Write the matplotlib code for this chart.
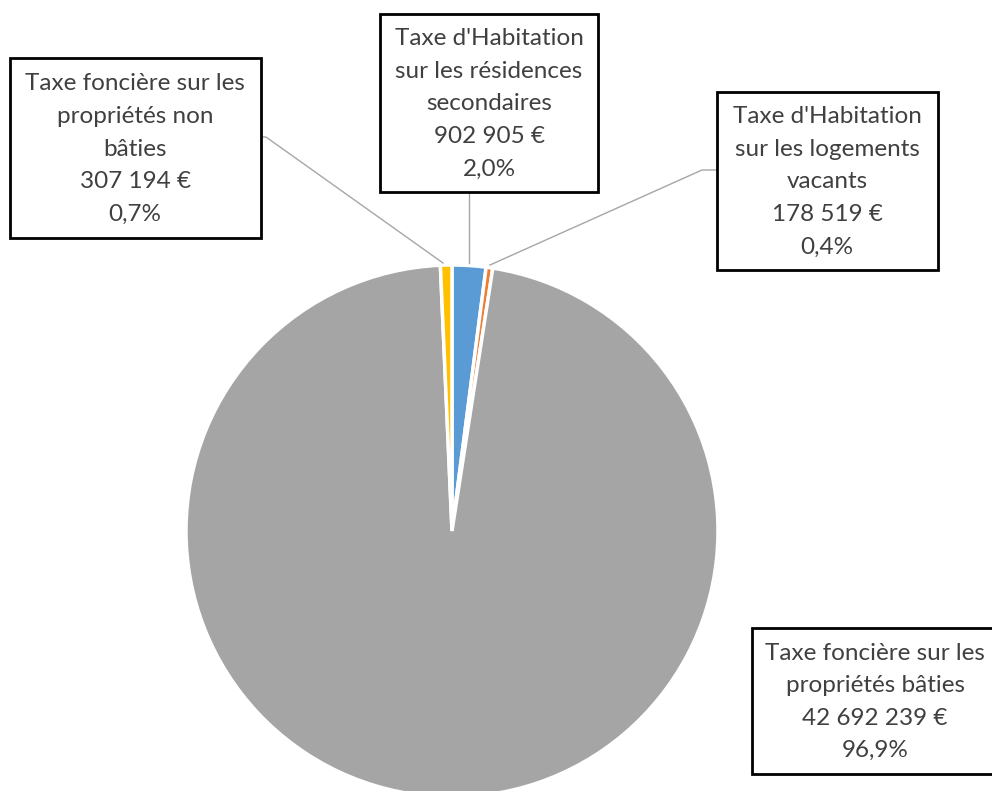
import matplotlib.pyplot as plt
from matplotlib.patches import Rectangle

# Valeurs des taxes (ordre horaire à partir de midi)
names = [
    "Taxe d'Habitation\nsur les résidences\nsecondaires",
    "Taxe d'Habitation\nsur les logements\nvacants",
    "Taxe foncière sur les\npropriétés bâties",
    "Taxe foncière sur les\npropriétés non\nbâties",
]
amounts = [902905, 178519, 42692239, 307194]
percents = [2.0, 0.4, 96.9, 0.7]
colors = ["#5B9BD5", "#ED7D31", "#A5A5A5", "#FFC000"]

W, H = 992, 791
fig = plt.figure(figsize=(W / 100, H / 100), dpi=100)
ax = fig.add_axes([0, 0, 1, 1])


def py(y):
    # y pixel (haut -> bas) vers coordonnée des données
    return H - y


ax.pie(amounts, colors=colors, startangle=90, counterclock=False,
       center=(452, py(531)), radius=266, frame=True,
       wedgeprops=dict(edgecolor="white", linewidth=2.5))
ax.set_xlim(0, W)
ax.set_ylim(0, H)
ax.axis("off")

txt_color = "#404040"
line_color = "#A6A6A6"

# boîtes: (x0, y0, x1, y1) en pixels
boxes = [
    (380, 14, 598, 192),
    (717, 92, 938, 270),
    (752, 628, 1010, 774),
    (10, 58, 261, 238),
]
text_x = [489, 827, 875, 135]
leaders = [
    [(469, 192), (469, 263)],
    [(717, 170), (702, 170), (490, 265)],
    None,
    [(261, 137), (266, 137), (443, 263)],
]

for name, v, pct, box, tx, lead in zip(names, amounts, percents, boxes, text_x, leaders):
    val = f"{v:,}".replace(",", " ") + " €"
    label = f"{name}\n{val}\n" + f"{pct:.1f}".replace(".", ",") + "%"
    x0, y0, x1, y1 = box
    ax.add_patch(Rectangle((x0, py(y1)), x1 - x0, y1 - y0, facecolor="white",
                           edgecolor="black", linewidth=2, zorder=3))
    ax.text(tx, py((y0 + y1) / 2 + 1), label, ha="center", va="center",
            fontsize=17.5, family=["Lato", "DejaVu Sans"], color=txt_color,
            linespacing=1.68, zorder=4)
    if lead:
        xs = [p[0] for p in lead]
        ys = [py(p[1]) for p in lead]
        ax.plot(xs, ys, color=line_color, linewidth=1, zorder=2)

fig.savefig("out.png", dpi=100)
